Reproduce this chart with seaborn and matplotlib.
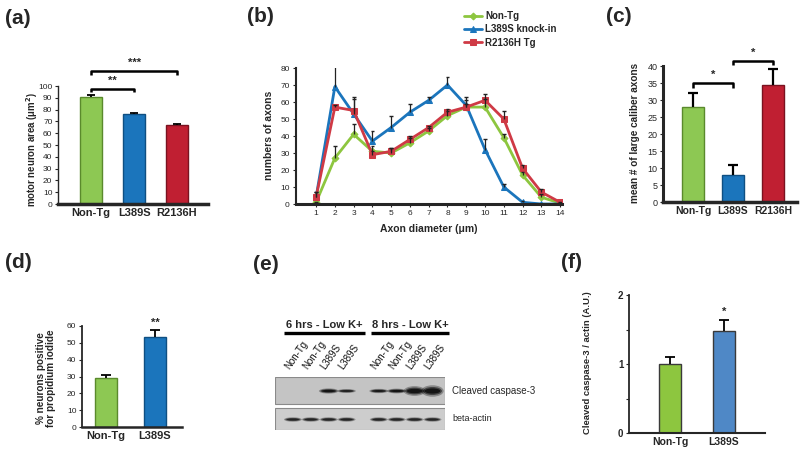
import numpy as np
import pandas as pd
import matplotlib
matplotlib.use("Agg")
import matplotlib.pyplot as plt
import seaborn as sns
from matplotlib.patches import Ellipse, Rectangle

# ---------------- data ----------------
a_groups = ["Non-Tg", "L389S", "R2136H"]
a_area = [91, 76, 67]
a_err = [1.2, 1.2, 1.2]

b_diam = list(range(1, 15))
b_series = ["Non-Tg", "L389S knock-in", "R2136H Tg"]
b_nontg = [1, 27, 41, 31, 30, 36, 43, 52, 57, 57, 39, 17, 4, 0.5]
b_nontg_err = [0, 7, 6, 3, 3, 3, 2, 3, 4, 5, 2, 2, 2, 0]
b_l389s = [4, 69, 53, 37, 45, 54, 61, 70, 58, 32, 10, 1, 0, 0]
b_l389s_err = [3, 12, 10, 6, 7, 5, 2, 5, 5, 6, 2, 0.5, 0, 0]
b_r2136h = [4, 57, 55, 29, 31, 38, 45, 54, 57, 61, 50, 21, 7, 1]
b_r2136h_err = [3, 1, 7, 2, 2, 2, 1, 2, 2, 4, 5, 2, 2, 0]

c_groups = ["Non-Tg", "L389S", "R2136H"]
c_axons = [28, 8, 34.5]
c_err = [4, 3, 4.5]

d_groups = ["Non-Tg", "L389S"]
d_pi = [29, 53.5]
d_err = [2, 4]

e_lanes = ["Non-Tg", "Non-Tg", "L389S", "L389S", "Non-Tg", "Non-Tg", "L389S", "L389S"]
e_time = ["6 hrs - Low K+", "8 hrs - Low K+"]
e_caspase = [0, 0, 0.55, 0.4, 0.45, 0.5, 0.9, 1.0]
e_actin = [0.8, 0.8, 0.8, 0.8, 0.8, 0.8, 0.8, 0.8]
e_rows = ["Cleaved caspase-3", "beta-actin"]

f_groups = ["Non-Tg", "L389S"]
f_ratio = [1.0, 1.48]
f_err = [0.1, 0.16]

# ---------------- style ----------------
sns.set_style("ticks")
plt.rcParams['font.family'] = ['Liberation Sans', 'DejaVu Sans']
plt.rcParams['mathtext.default'] = 'bf'

GREEN, BLUE, RED = '#8dc853', '#1b75bc', '#c01f32'
GEDGE, BEDGE, REDGE = '#5a8a2c', '#0f4f82', '#7a1220'

W, H = 800, 453
fig = plt.figure(figsize=(8, 4.53), dpi=100)


def rect(x0, y0, x1, y1):
    return [x0 / W, 1 - y1 / H, (x1 - x0) / W, (y1 - y0) / H]


def bars(ax, groups, vals, errs, colors, edges, width, capw, elw=1.3):
    sns.barplot(x=groups, y=vals, hue=groups, palette=colors, legend=False,
                width=width, ax=ax, saturation=1, errorbar=None)
    for p, ec in zip(ax.patches, edges):
        p.set_edgecolor(ec)
        p.set_linewidth(1)
    xs = np.arange(len(vals))
    v = np.array(vals, float)
    top = v + np.array(errs, float)
    ax.vlines(xs, v, top, color='k', lw=elw, zorder=3)
    ax.hlines(top, xs - capw, xs + capw, color='k', lw=elw, zorder=3)


def style(ax, x0, y0, x1, y1, ylabel, lab_x, lab_y, lab_fs, ytick_fs=6,
          xtick_fs=8, lw_left=1.0, lw_bottom=2.5):
    sns.despine(ax=ax)
    ax.spines['left'].set_linewidth(lw_left)
    ax.spines['bottom'].set_linewidth(lw_bottom)
    ax.set_xlabel('')
    ax.set_ylabel(ylabel, fontsize=lab_fs, fontweight='bold', va='center')
    ax.yaxis.set_label_coords((lab_x - x0) / (x1 - x0), (y1 - lab_y) / (y1 - y0))
    ax.tick_params(axis='y', labelsize=ytick_fs, length=2.5, width=0.8, pad=1.5)
    ax.tick_params(axis='x', length=0, labelsize=xtick_fs, pad=3)
    for t in ax.get_xticklabels():
        t.set_fontweight('bold')
    ax.set_facecolor('none')


def bracket(ax, i, j, y, drop, star, ystar, fs=8):
    ax.plot([i, i, j, j], [y - drop, y, y, y - drop], color='k', lw=1.8,
            clip_on=False, solid_capstyle='butt')
    ax.text((i + j) / 2, ystar, star, ha='center', va='center', fontsize=fs,
            fontweight='bold', clip_on=False)

# ---------------- (a) ----------------
x0, y0, x1, y1 = 58, 86, 208, 204
ax = fig.add_axes(rect(x0, y0, x1, y1))
bars(ax, a_groups, a_area, a_err, [GREEN, BLUE, RED], [GEDGE, BEDGE, REDGE], 0.53, 0.09)
ax.set_ylim(0, 100)
ax.set_yticks(range(0, 101, 10))
ax.set_xlim(-0.77, 2.72)
style(ax, x0, y0, x1, y1, 'motor neuron area (μm$^{2}$)', 32, 149, 6.9)
bracket(ax, 0, 1, 97.5, 2.2, '**', 104)
bracket(ax, 0, 2, 112.7, 3.0, '***', 119.5)

# ---------------- (b) ----------------
x0, y0, x1, y1 = 296, 68, 562, 204
ax = fig.add_axes(rect(x0, y0, x1, y1))
b_cols = ['#8dc63f', BLUE, '#cf3a45']
b_marks = ['D', '^', 's']
b_msize = [3.5, 4.5, 3.8]
b_vals = [b_nontg, b_l389s, b_r2136h]
b_errs = [b_nontg_err, b_l389s_err, b_r2136h_err]
for name, vals, errs, col, mk, ms in zip(b_series, b_vals, b_errs, b_cols, b_marks, b_msize):
    sns.lineplot(x=b_diam, y=vals, color=col, lw=2, marker=mk, markersize=ms,
                 markeredgecolor=col, ax=ax, label=name, legend=False, zorder=2)
    xs = np.array(b_diam, float)
    v = np.array(vals, float)
    top = v + np.array(errs, float)
    ax.vlines(xs, v, top, color='#222222', lw=0.9, zorder=3)
    ax.hlines(top, xs - 0.1, xs + 0.1, color='#222222', lw=1.0, zorder=3)
ax.set_xlim(-0.07, 14.1)
ax.set_ylim(0, 80)
ax.set_yticks(range(0, 81, 10))
ax.set_xticks(b_diam)
sns.despine(ax=ax)
ax.spines['left'].set_linewidth(1.5)
ax.spines['bottom'].set_linewidth(2.2)
ax.tick_params(axis='both', labelsize=6, length=2.5, width=0.8, pad=2)
ax.set_ylabel('numbers of axons', fontsize=7.5, fontweight='bold', va='center')
ax.yaxis.set_label_coords((269 - x0) / (x1 - x0), (y1 - 135) / (y1 - y0))
ax.set_xlabel('Axon diameter (μm)', fontsize=7.5, fontweight='bold', labelpad=5)
ax.set_facecolor('none')
h, l = ax.get_legend_handles_labels()
leg = fig.legend(h, l, loc='upper left', bbox_to_anchor=(464 / W, 1 - 11 / H),
                 frameon=False, fontsize=7, handlelength=1.9, labelspacing=0.35,
                 handletextpad=0.3, borderaxespad=0, borderpad=0)
for t in leg.get_texts():
    t.set_fontweight('bold')

# ---------------- (c) ----------------
x0, y0, x1, y1 = 663, 66, 797, 202
ax = fig.add_axes(rect(x0, y0, x1, y1))
bars(ax, c_groups, c_axons, c_err, [GREEN, BLUE, RED], [GEDGE, BEDGE, REDGE], 0.55, 0.13, elw=1.6)
ax.set_ylim(0, 40)
ax.set_yticks(range(0, 41, 5))
ax.set_xlim(-0.75, 2.6)
style(ax, x0, y0, x1, y1, 'mean # of large caliber axons', 635, 133, 7.2,
      ytick_fs=6.5, xtick_fs=7.5, lw_left=2.2, lw_bottom=2.5)
bracket(ax, 0, 1, 35, 1.5, '*', 37.3)
bracket(ax, 1, 2, 41.5, 1.3, '*', 44.0)

# ---------------- (d) ----------------
x0, y0, x1, y1 = 82, 326, 182, 427
ax = fig.add_axes(rect(x0, y0, x1, y1))
bars(ax, d_groups, d_pi, d_err, [GREEN, BLUE], [GEDGE, BEDGE], 0.45, 0.1)
ax.set_ylim(0, 60)
ax.set_yticks(range(0, 61, 10))
ax.set_xlim(-0.49, 1.55)
style(ax, x0, y0, x1, y1, '% neurons positive\nfor propidium iodide', 46, 378, 7.2,
      ytick_fs=6, xtick_fs=8, lw_left=1.3, lw_bottom=1.8)
ax.yaxis.label.set_linespacing(1.1)
ax.text(1, 62, '**', ha='center', va='center', fontsize=8, fontweight='bold', clip_on=False)

# ---------------- (e) blot ----------------
x0, y0, x1, y1 = 275, 377, 445, 430
ax = fig.add_axes(rect(x0, y0, x1, y1))
ax.set_xlim(-1.0, 8.5)
ax.set_ylim(53, 0)
ax.axis('off')
pos = [i + (0.8 if i >= 4 else 0.0) for i in range(len(e_lanes))]
ax.add_patch(Rectangle((-1.0, 0), 9.5, 27, facecolor='#c4c4c4', edgecolor='#8a8a8a', lw=0.8))
ax.add_patch(Rectangle((-1.0, 30.5), 9.5, 22.5, facecolor='#cdcdcd', edgecolor='#8a8a8a', lw=0.8))
for p, v in zip(pos, e_caspase):
    if v <= 0:
        continue
    for sw, sh, al in [(1.0, 1.0, 0.3), (0.85, 0.7, 0.5), (0.7, 0.45, 0.7)]:
        ax.add_patch(Ellipse((p, 14), (0.9 + 0.35 * v) * sw, (2.5 + 9 * v ** 2) * sh,
                             facecolor='k', edgecolor='none', alpha=al * min(1, 0.5 + v)))
for p, v in zip(pos, e_actin):
    for sw, sh, al in [(1.0, 1.0, 0.35), (0.85, 0.7, 0.55), (0.7, 0.45, 0.7)]:
        ax.add_patch(Ellipse((p, 42.5), 1.0 * sw, 4.5 * sh,
                             facecolor='k', edgecolor='none', alpha=al * v))
for p, lab in zip(pos, e_lanes):
    ax.text(p - 0.1, -6, lab, rotation=55, rotation_mode='anchor', ha='left',
            va='bottom', fontsize=7, clip_on=False, color='#111111')
ax.text(1.75, -47, e_time[0], ha='center', va='bottom', fontsize=8,
        fontweight='bold', clip_on=False)
ax.text(6.55, -47, e_time[1], ha='center', va='bottom', fontsize=8,
        fontweight='bold', clip_on=False)
ax.plot([-0.5, 4.05], [-44.5, -44.5], color='k', lw=2.4, clip_on=False, solid_capstyle='butt')
ax.plot([4.35, 8.75], [-44.5, -44.5], color='k', lw=2.4, clip_on=False, solid_capstyle='butt')
ax.text(8.9, 14, e_rows[0], ha='left', va='center', fontsize=7, clip_on=False)
ax.text(8.9, 41.5, e_rows[1], ha='left', va='center', fontsize=6.5, clip_on=False)

# ---------------- (f) ----------------
x0, y0, x1, y1 = 629, 295, 765, 433
ax = fig.add_axes(rect(x0, y0, x1, y1))
bars(ax, f_groups, f_ratio, f_err, ['#8dc63f', '#4f88c6'], ['#3a3a3a', '#3a3a3a'], 0.41, 0.1)
ax.set_ylim(0, 2)
ax.set_yticks([0, 1, 2])
ax.set_yticks([0.5, 1.5], minor=True)
ax.set_xlim(-0.76, 1.76)
style(ax, x0, y0, x1, y1, 'Cleaved caspase-3 / actin (A.U.)', 588, 363, 6.8,
      ytick_fs=7, xtick_fs=7.5, lw_left=1.3, lw_bottom=1.5)
ax.tick_params(axis='y', which='minor', length=2, width=0.8)
for t in ax.get_yticklabels():
    t.set_fontweight('bold')
ax.text(1, 1.76, '*', ha='center', va='center', fontsize=8, fontweight='bold', clip_on=False)

# ---------------- panel labels ----------------
for lab, px, py in [('(a)', 5, 18), ('(b)', 247, 17), ('(c)', 606, 17),
                    ('(d)', 5, 263), ('(e)', 253, 264), ('(f)', 561, 263)]:
    fig.text(px / W, 1 - py / H, lab, ha='left', va='center', fontsize=15, fontweight='bold')

fig.savefig('out.png', dpi=100)
